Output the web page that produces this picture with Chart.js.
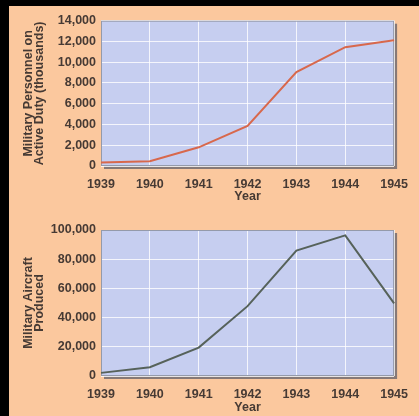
<!DOCTYPE html>
<html>
<head>
<meta charset="utf-8">
<script src="https://cdn.jsdelivr.net/npm/chart.js@4/dist/chart.umd.min.js"></script>
<style>
html, body { margin: 0; padding: 0; background: #000; }
#panel { position: absolute; left: 9px; top: 6px; width: 410px; height: 410px; background: #fbc89e; }
#top { position: absolute; left: 0; top: 0; }
#bottom { position: absolute; left: 0; top: 200px; }
</style>
</head>
<body>
<div id="panel">
  <canvas id="top" width="410" height="200"></canvas>
  <canvas id="bottom" width="410" height="210"></canvas>
</div>
<script>
// data
var years = ["1939", "1940", "1941", "1942", "1943", "1944", "1945"];
var personnel = [334, 458, 1801, 3859, 9045, 11452, 12123]; // thousands
var aircraft = [2141, 6019, 19433, 47836, 85898, 96318, 49761];

var textColor = "#463a34";
var tickFont = { family: "'Liberation Sans', Arial, sans-serif", size: 12.5, weight: "bold" };
var titleFont = { family: "'Liberation Sans', Arial, sans-serif", size: 12.5, weight: "bold", lineHeight: 0.9 };

// plot box: shadow, fill and border
var plotBox = {
  id: "plotBox",
  beforeDraw: function (chart) {
    var a = chart.chartArea, c = chart.ctx;
    c.save();
    c.fillStyle = "rgba(95,95,105,0.75)";
    c.fillRect(a.left + 3, a.top + 3, a.right - a.left, a.bottom - a.top);
    c.fillStyle = "#c6cef0";
    c.fillRect(a.left, a.top, a.right - a.left, a.bottom - a.top);
    c.restore();
  },
  beforeDatasetsDraw: function (chart) {
    var a = chart.chartArea, c = chart.ctx;
    c.save();
    c.strokeStyle = "#949aaa";
    c.lineWidth = 1;
    c.strokeRect(a.left + 0.5, a.top + 0.5, a.right - a.left - 1, a.bottom - a.top - 1);
    c.restore();
  }
};

function makeChart(id, values, color, yMax, yStep, yTitle, topPad, xHeight, tickPad, titlePad) {
  return new Chart(document.getElementById(id), {
    type: "line",
    data: {
      labels: years,
      datasets: [{
        data: values,
        borderColor: color,
        borderWidth: 2,
        pointRadius: 0,
        tension: 0,
        fill: false
      }]
    },
    options: {
      responsive: false,
      animation: false,
      layout: { padding: { top: topPad, right: 18, left: 0, bottom: 0 } },
      plugins: { legend: { display: false }, tooltip: { enabled: false } },
      scales: {
        x: {
          offset: false,
          grid: { color: "rgba(255,255,255,0.8)", lineWidth: 1, drawTicks: false },
          border: { display: false },
          ticks: { color: textColor, font: tickFont, padding: tickPad, maxRotation: 0, autoSkip: false },
          title: { display: true, text: "Year", color: textColor, font: tickFont, padding: { top: 0, bottom: titlePad } },
          afterFit: function (s) { s.height = xHeight; }
        },
        y: {
          min: 0,
          max: yMax,
          grid: { color: "rgba(255,255,255,0.8)", lineWidth: 1, drawTicks: false },
          border: { display: false },
          ticks: { color: textColor, font: tickFont, padding: 5, stepSize: yStep },
          title: { display: true, text: yTitle, color: textColor, font: titleFont, padding: { top: 13.5, bottom: 0 } },
          afterFit: function (s) { s.width = 92; }
        }
      }
    },
    plugins: [plotBox]
  });
}

makeChart("top", personnel, "#d8684c", 14000, 2000,
  ["Military Personnel on", "Active Duty (thousands)"], 14.7, 40, 11, 2);
makeChart("bottom", aircraft, "#56625a", 100000, 20000,
  ["Military Aircraft", "Produced"], 24, 40, 11, 1);
</script>
</body>
</html>
